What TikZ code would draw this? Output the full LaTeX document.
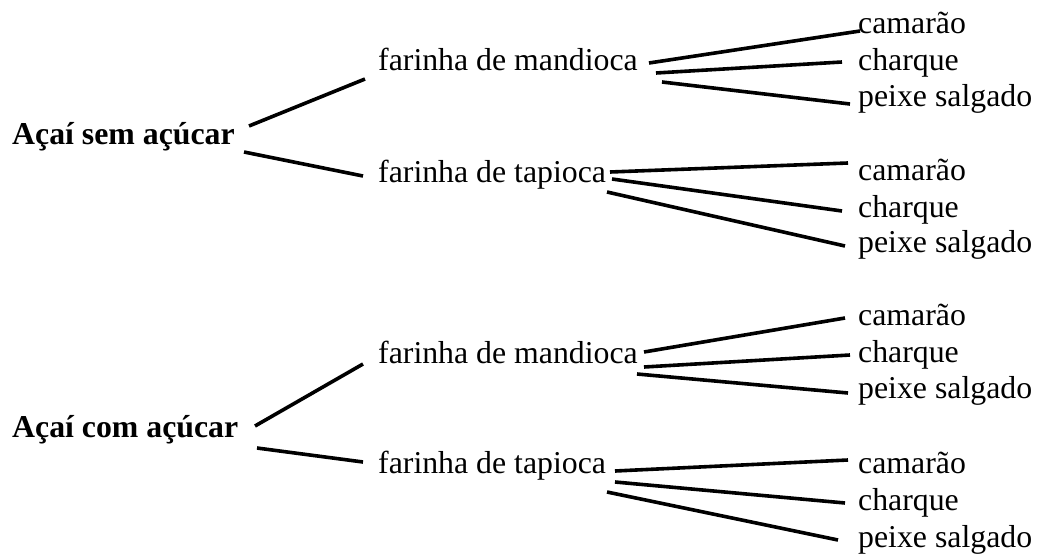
\documentclass[tikz,border=0pt]{standalone}
\usepackage{fontspec}
\setmainfont{Liberation Serif}
\begin{document}
\begin{tikzpicture}[x=1pt,y=-1pt,
  lbl/.style={anchor=base west,inner sep=0pt,font=\fontsize{31.8}{38}\selectfont},
  rootlbl/.style={lbl,font=\fontsize{31.8}{38}\selectfont\bfseries},
  branch/.style={line width=3.6pt}]
\useasboundingbox (0,0) rectangle (1038,554);

% first tree
\node[rootlbl] (r1) at (12,144) {Açaí sem açúcar};
\node[lbl] (m1) at (378,70) {farinha de mandioca};
\node[lbl] (t1) at (378,182) {farinha de tapioca};
\node[lbl] (m1a) at (858,33) {camarão};
\node[lbl] (m1b) at (858,70) {charque};
\node[lbl] (m1c) at (858,106) {peixe salgado};
\node[lbl] (t1a) at (858,180) {camarão};
\node[lbl] (t1b) at (858,217) {charque};
\node[lbl] (t1c) at (858,252) {peixe salgado};

% second tree
\node[rootlbl] (r2) at (12,437) {Açaí com açúcar};
\node[lbl] (m2) at (378,363) {farinha de mandioca};
\node[lbl] (t2) at (378,473) {farinha de tapioca};
\node[lbl] (m2a) at (858,325) {camarão};
\node[lbl] (m2b) at (858,362) {charque};
\node[lbl] (m2c) at (858,398) {peixe salgado};
\node[lbl] (t2a) at (858,473) {camarão};
\node[lbl] (t2b) at (858,510) {charque};
\node[lbl] (t2c) at (858,547) {peixe salgado};

% branch end points
\coordinate (r1u) at (249,126); \coordinate (m1in) at (365,79);
\coordinate (r1d) at (244,152); \coordinate (t1in) at (363,176);
\coordinate (m1o1) at (649,63); \coordinate (m1ain) at (860,31);
\coordinate (m1o2) at (656,73); \coordinate (m1bin) at (842,62);
\coordinate (m1o3) at (662,82); \coordinate (m1cin) at (850,104);
\coordinate (t1o1) at (610,172); \coordinate (t1ain) at (848,163);
\coordinate (t1o2) at (612,179); \coordinate (t1bin) at (842,211);
\coordinate (t1o3) at (607,192); \coordinate (t1cin) at (845,246);

\coordinate (r2u) at (255,426); \coordinate (m2in) at (363,364);
\coordinate (r2d) at (257,448); \coordinate (t2in) at (363,462);
\coordinate (m2o1) at (644,352); \coordinate (m2ain) at (845,318);
\coordinate (m2o2) at (644,367); \coordinate (m2bin) at (850,355);
\coordinate (m2o3) at (637,374); \coordinate (m2cin) at (848,393);
\coordinate (t2o1) at (615,471); \coordinate (t2ain) at (848,460);
\coordinate (t2o2) at (615,482); \coordinate (t2bin) at (845,503);
\coordinate (t2o3) at (607,492); \coordinate (t2cin) at (838,540);

\draw[branch] (r1u) -- (m1in);
\draw[branch] (r1d) -- (t1in);
\draw[branch] (m1o1) -- (m1ain);
\draw[branch] (m1o2) -- (m1bin);
\draw[branch] (m1o3) -- (m1cin);
\draw[branch] (t1o1) -- (t1ain);
\draw[branch] (t1o2) -- (t1bin);
\draw[branch] (t1o3) -- (t1cin);

\draw[branch] (r2u) -- (m2in);
\draw[branch] (r2d) -- (t2in);
\draw[branch] (m2o1) -- (m2ain);
\draw[branch] (m2o2) -- (m2bin);
\draw[branch] (m2o3) -- (m2cin);
\draw[branch] (t2o1) -- (t2ain);
\draw[branch] (t2o2) -- (t2bin);
\draw[branch] (t2o3) -- (t2cin);
\end{tikzpicture}
\end{document}
